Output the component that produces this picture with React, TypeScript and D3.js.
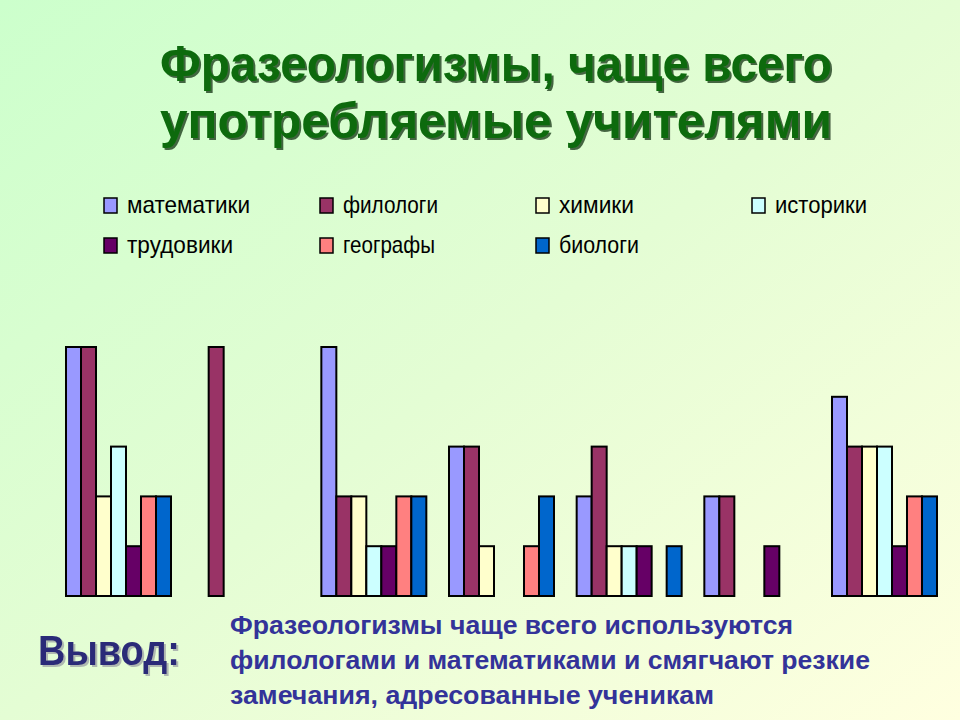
import React from "react";
import * as d3 from "d3";

const W = 960;
const H = 720;

const titleLines = ["Фразеологизмы, чаще всего", "употребляемые  учителями"];
const seriesNames = ["математики", "филологи", "химики", "историки", "трудовики", "географы", "биологи"];
const seriesColors = ["#9999FF", "#993366", "#FFFFCC", "#CCFFFF", "#660066", "#FF8080", "#0066CC"];
const groups = ["1", "2", "3", "4", "5", "6", "7"];
const mathValues = [5, 0, 5, 3, 2, 2, 4];
const philValues = [5, 5, 2, 3, 3, 2, 3];
const chemValues = [2, 0, 2, 1, 1, 0, 3];
const histValues = [3, 0, 1, 0, 1, 0, 3];
const trudValues = [1, 0, 1, 0, 1, 1, 1];
const geoValues = [2, 0, 2, 1, 0, 0, 2];
const bioValues = [2, 0, 2, 2, 1, 0, 2];
const seriesValues = [mathValues, philValues, chemValues, histValues, trudValues, geoValues, bioValues];
const conclusionLabel = "Вывод:";
const conclusionLines = [
  "Фразеологизмы чаще всего используются",
  "филологами и математиками и смягчают резкие",
  "замечания, адресованные ученикам",
];

// legend layout: column index, row index per series
const legendCols = [0, 1, 2, 3, 0, 1, 2];
const legendRows = [0, 0, 0, 0, 1, 1, 1];
const legendWidths = [123, 95, 75, 92, 106, 92, 80];

export default function App() {
  const x0 = d3
    .scaleBand<string>()
    .domain(groups)
    .range([54.67, 948.33])
    .paddingInner(0.1776)
    .paddingOuter(0.0888);
  const x1 = d3.scaleBand<string>().domain(seriesNames).range([0, x0.bandwidth()]).padding(0);
  const y = d3.scaleLinear().domain([0, 5]).range([596, 347]);

  const legendX = d3.scaleLinear().domain([0, 3]).range([104, 752]);
  const legendY = d3.scaleLinear().domain([0, 1]).range([198, 238]);

  const font = "'Liberation Sans', Arial, sans-serif";

  return (
    <svg
      width={W}
      height={H}
      style={{ position: "absolute", left: 0, top: 0, display: "block" }}
      xmlns="http://www.w3.org/2000/svg"
    >
      <defs>
        <linearGradient id="bg" x1="0" y1="0" x2="1" y2="1">
          <stop offset="0%" stopColor="#CCFFCC" />
          <stop offset="50%" stopColor="#E4FDD4" />
          <stop offset="100%" stopColor="#FFFFE0" />
        </linearGradient>
        <filter id="shGreen" x="-5%" y="-20%" width="110%" height="140%">
          <feDropShadow dx={2} dy={2} stdDeviation={0.6} floodColor="#0A300A" floodOpacity={0.75} />
        </filter>
        <filter id="shBlue" x="-5%" y="-20%" width="110%" height="140%">
          <feDropShadow dx={2} dy={2} stdDeviation={0.6} floodColor="#8A8A9A" floodOpacity={0.6} />
        </filter>
      </defs>
      <rect x={0} y={0} width={W} height={H} fill="url(#bg)" />

      {/* Title */}
      <g fontFamily={font} fontWeight="bold" fontSize={50} textAnchor="middle" filter="url(#shGreen)">
        {titleLines.map((t, i) => (
          <text
            key={"t" + i}
            x={496}
            y={81 + i * 57}
            fill="#0B6B0B"
            textLength={672}
            lengthAdjust="spacingAndGlyphs"
          >
            {t}
          </text>
        ))}
      </g>

      {/* Legend */}
      {seriesNames.map((s, i) => {
        const lx = legendX(legendCols[i]);
        const ly = legendY(legendRows[i]);
        return (
          <g key={"l" + i}>
            <rect x={lx} y={ly} width={13} height={15} fill={seriesColors[i]} stroke="#000" strokeWidth={1.5} />
            <text
              x={lx + 23}
              y={ly + 15}
              fontFamily={font}
              fontSize={24}
              fill="#000"
              textLength={legendWidths[i]}
              lengthAdjust="spacingAndGlyphs"
            >
              {s}
            </text>
          </g>
        );
      })}

      {/* Bars */}
      {groups.map((g, gi) => (
        <g key={"g" + g} transform={`translate(${x0(g)},0)`}>
          {seriesNames.map((s, si) => {
            const v = seriesValues[si][gi];
            if (v <= 0) return null;
            return (
              <rect
                key={s}
                x={x1(s)}
                y={y(v)}
                width={x1.bandwidth()}
                height={y(0) - y(v)}
                fill={seriesColors[si]}
                stroke="#000"
                strokeWidth={2}
              />
            );
          })}
        </g>
      ))}

      {/* Conclusion */}
      <g fontFamily={font} fontWeight="bold">
        <text
          x={38}
          y={665}
          fontSize={42}
          fill="#2B2B78"
          filter="url(#shBlue)"
          textLength={142}
          lengthAdjust="spacingAndGlyphs"
        >
          {conclusionLabel}
        </text>
        {conclusionLines.map((t, i) => (
          <text
            key={"c" + i}
            x={230}
            y={634 + i * 35}
            fontSize={25}
            fill="#333399"
            textLength={[563, 640, 484][i]}
            lengthAdjust="spacingAndGlyphs"
          >
            {t}
          </text>
        ))}
      </g>
    </svg>
  );
}
